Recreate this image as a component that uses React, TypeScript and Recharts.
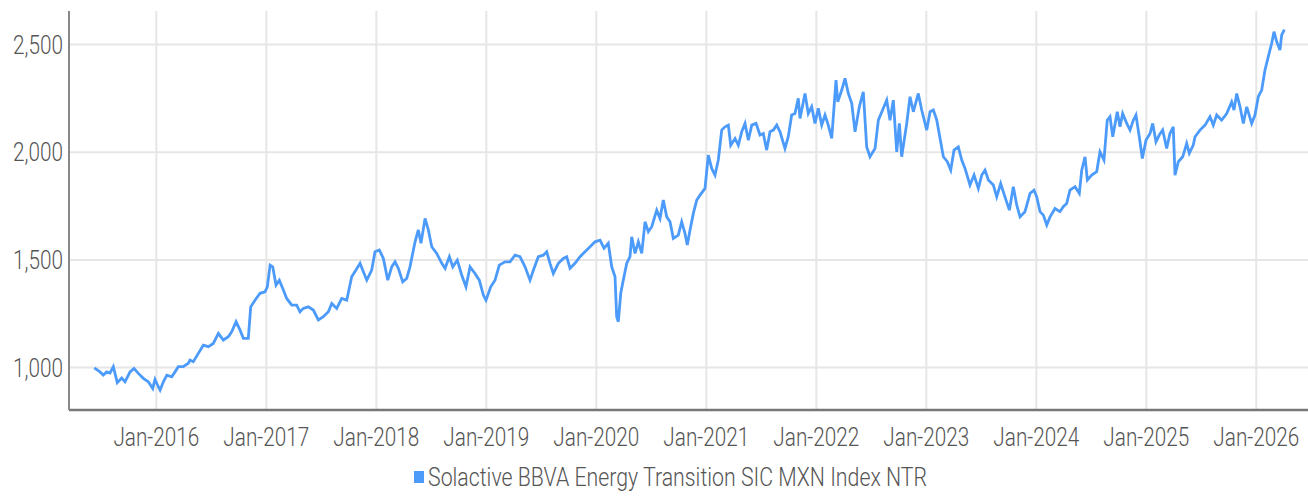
import React from "react";
import { CartesianGrid, Legend, Line, LineChart, XAxis, YAxis } from "recharts";

const SERIES_NAME = "Solactive BBVA Energy Transition SIC MXN Index NTR";

// observation dates as fractional years
const years = [
  2015.436, 2015.488, 2015.518, 2015.549, 2015.579, 2015.609, 2015.645, 2015.685, 2015.715, 2015.761,
  2015.797, 2015.836, 2015.882, 2015.927, 2015.967, 2015.988, 2016.018, 2016.034, 2016.064, 2016.095,
  2016.14, 2016.17, 2016.2, 2016.245, 2016.291, 2016.306, 2016.336, 2016.382, 2016.427, 2016.473,
  2016.518, 2016.564, 2016.609, 2016.655, 2016.685, 2016.725, 2016.761, 2016.791, 2016.836, 2016.858,
  2016.897, 2016.943, 2016.988, 2017.009, 2017.034, 2017.058, 2017.088, 2017.118, 2017.155, 2017.185,
  2017.231, 2017.276, 2017.306, 2017.336, 2017.382, 2017.427, 2017.473, 2017.518, 2017.564, 2017.595,
  2017.64, 2017.685, 2017.731, 2017.776, 2017.815, 2017.852, 2017.882, 2017.913, 2017.958, 2017.988,
  2018.027, 2018.064, 2018.104, 2018.14, 2018.17, 2018.2, 2018.24, 2018.276, 2018.306, 2018.352,
  2018.382, 2018.406, 2018.443, 2018.473, 2018.504, 2018.549, 2018.595, 2018.625, 2018.664, 2018.695,
  2018.736, 2018.776, 2018.815, 2018.852, 2018.897, 2018.936, 2018.973, 2018.997, 2019.04, 2019.079,
  2019.118, 2019.17, 2019.215, 2019.261, 2019.306, 2019.352, 2019.397, 2019.434, 2019.473, 2019.518,
  2019.549, 2019.579, 2019.609, 2019.655, 2019.7, 2019.731, 2019.761, 2019.806, 2019.852, 2019.897,
  2019.943, 2019.988, 2020.034, 2020.07, 2020.109, 2020.14, 2020.17, 2020.185, 2020.2, 2020.222,
  2020.245, 2020.276, 2020.306, 2020.322, 2020.352, 2020.382, 2020.413, 2020.443, 2020.473, 2020.504,
  2020.549, 2020.579, 2020.609, 2020.64, 2020.67, 2020.7, 2020.745, 2020.776, 2020.806, 2020.827,
  2020.852, 2020.882, 2020.913, 2020.943, 2020.988, 2021.018, 2021.049, 2021.079, 2021.109, 2021.14,
  2021.17, 2021.2, 2021.222, 2021.261, 2021.291, 2021.322, 2021.352, 2021.382, 2021.413, 2021.452,
  2021.488, 2021.518, 2021.549, 2021.579, 2021.609, 2021.64, 2021.67, 2021.715, 2021.745, 2021.776,
  2021.806, 2021.836, 2021.852, 2021.897, 2021.927, 2021.958, 2021.988, 2022.018, 2022.049, 2022.079,
  2022.109, 2022.14, 2022.179, 2022.195, 2022.231, 2022.261, 2022.291, 2022.322, 2022.352, 2022.391,
  2022.427, 2022.458, 2022.488, 2022.534, 2022.564, 2022.609, 2022.64, 2022.67, 2022.7, 2022.731,
  2022.755, 2022.776, 2022.822, 2022.852, 2022.882, 2022.927, 2022.958, 2023.004, 2023.034, 2023.064,
  2023.095, 2023.125, 2023.155, 2023.191, 2023.222, 2023.252, 2023.291, 2023.322, 2023.352, 2023.397,
  2023.434, 2023.473, 2023.504, 2023.534, 2023.564, 2023.609, 2023.64, 2023.676, 2023.715, 2023.755,
  2023.791, 2023.822, 2023.852, 2023.897, 2023.943, 2023.979, 2024.004, 2024.034, 2024.064, 2024.095,
  2024.125, 2024.17, 2024.215, 2024.245, 2024.276, 2024.306, 2024.352, 2024.391, 2024.413, 2024.443,
  2024.464, 2024.504, 2024.549, 2024.579, 2024.615, 2024.645, 2024.67, 2024.695, 2024.736, 2024.761,
  2024.785, 2024.822, 2024.852, 2024.882, 2024.906, 2024.936, 2024.964, 2024.997, 2025.034, 2025.058,
  2025.088, 2025.118, 2025.149, 2025.185, 2025.215, 2025.245, 2025.261, 2025.291, 2025.331, 2025.367,
  2025.391, 2025.427, 2025.443, 2025.488, 2025.534, 2025.579, 2025.609, 2025.64, 2025.685, 2025.731,
  2025.776, 2025.797, 2025.822, 2025.852, 2025.882, 2025.913, 2025.958, 2025.988, 2026.018, 2026.049,
  2026.079, 2026.109, 2026.14, 2026.161, 2026.185, 2026.215, 2026.231, 2026.255,
];

const indexValues = [
  999, 980, 965, 980, 975, 1004, 930, 951, 934, 980,
  996, 973, 950, 934, 903, 945, 911, 895, 934, 965,
  957, 980, 1004, 1004, 1020, 1035, 1027, 1066, 1104, 1097,
  1112, 1159, 1128, 1143, 1166, 1213, 1174, 1136, 1136, 1282,
  1313, 1345, 1352, 1375, 1476, 1468, 1383, 1406, 1360, 1321,
  1290, 1290, 1259, 1275, 1282, 1267, 1221, 1236, 1259, 1298,
  1275, 1321, 1313, 1422, 1453, 1484, 1445, 1406, 1453, 1538,
  1546, 1507, 1406, 1468, 1491, 1461, 1398, 1414, 1468, 1584,
  1639, 1577, 1693, 1639, 1561, 1530, 1484, 1461, 1515, 1468,
  1499, 1430, 1375, 1468, 1437, 1406, 1337, 1313, 1375, 1406,
  1476, 1491, 1491, 1522, 1515, 1468, 1406, 1461, 1515, 1522,
  1538, 1484, 1437, 1484, 1507, 1515, 1461, 1484, 1515, 1538,
  1561, 1584, 1592, 1554, 1577, 1468, 1422, 1236, 1213, 1345,
  1406, 1484, 1515, 1607, 1530, 1584, 1530, 1677, 1631, 1654,
  1731, 1693, 1778, 1700, 1677, 1600, 1615, 1677, 1623, 1569,
  1639, 1716, 1778, 1801, 1832, 1987, 1925, 1894, 1964, 2103,
  2118, 2126, 2033, 2064, 2033, 2095, 2134, 2056, 2126, 2134,
  2080, 2087, 2010, 2095, 2103, 2126, 2095, 2018, 2072, 2173,
  2180, 2250, 2157, 2273, 2180, 2211, 2134, 2204, 2126, 2173,
  2126, 2064, 2335, 2234, 2289, 2343, 2273, 2227, 2095, 2211,
  2281, 2025, 1979, 2018, 2149, 2204, 2242, 2149, 2242, 2002,
  2134, 1979, 2134, 2258, 2188, 2273, 2196, 2103, 2188, 2196,
  2149, 2064, 1979, 1956, 1917, 2010, 2025, 1964, 1925, 1848,
  1894, 1832, 1894, 1917, 1871, 1848, 1793, 1855, 1793, 1731,
  1840, 1755, 1700, 1724, 1809, 1824, 1793, 1724, 1708, 1662,
  1700, 1739, 1724, 1747, 1762, 1824, 1840, 1809, 1917, 1979,
  1871, 1894, 1910, 2002, 1964, 2149, 2165, 2072, 2188, 2118,
  2180, 2134, 2103, 2149, 2173, 2072, 1971, 2056, 2087, 2134,
  2049, 2080, 2103, 2018, 2087, 2118, 1894, 1956, 1979, 2041,
  1995, 2033, 2072, 2103, 2126, 2165, 2126, 2173, 2149, 2180,
  2234, 2196, 2273, 2211, 2134, 2211, 2134, 2173, 2258, 2289,
  2382, 2444, 2506, 2560, 2514, 2475, 2545, 2570,
];

const yearTicks = [2016, 2017, 2018, 2019, 2020, 2021, 2022, 2023, 2024, 2025, 2026];
const valueTicks = [1000, 1500, 2000, 2500];

const data = years.map((t, i) => ({ t, value: indexValues[i] }));

const FONT = "Roboto, sans-serif";
const SQUEEZE = 0.83; // the original face is a light condensed one
const TEXT_COLOR = "#555";
const LINE_COLOR = "#4c9bfa";

function YTick({ x, y, payload }: any) {
  return (
    <g transform={`translate(${x},${y})`}>
      <text
        transform={`scale(${SQUEEZE},1)`}
        textAnchor="end"
        dy="0.36em"
        fill={TEXT_COLOR}
        fontSize={25}
        fontWeight={300}
        fontFamily={FONT}
      >
        {Number(payload.value).toLocaleString("en-US")}
      </text>
    </g>
  );
}

function XTick({ x, y, payload }: any) {
  return (
    <g transform={`translate(${x},${y})`}>
      <text
        transform={`scale(${SQUEEZE},1)`}
        textAnchor="middle"
        dy="0.71em"
        fill={TEXT_COLOR}
        fontSize={25}
        fontWeight={300}
        fontFamily={FONT}
      >
        {`Jan-${payload.value}`}
      </text>
    </g>
  );
}

function LegendBox() {
  return (
    <div style={{ height: 36, position: "relative", fontFamily: FONT }}>
      <span
        style={{
          position: "absolute",
          left: 414,
          top: 11,
          width: 10,
          height: 12,
          background: LINE_COLOR,
        }}
      />
      <span
        style={{
          position: "absolute",
          left: 428,
          top: 3,
          fontSize: 25,
          fontWeight: 300,
          lineHeight: "30px",
          color: TEXT_COLOR,
          whiteSpace: "nowrap",
          transform: "scaleX(0.852)",
          transformOrigin: "left center",
        }}
      >
        {SERIES_NAME}
      </span>
    </div>
  );
}

export default function App() {
  return (
    <div style={{ position: "absolute", left: 0, top: 0, width: 1308, height: 496, background: "#fff" }}>
      <LineChart width={1308} height={496} data={data} margin={{ top: 11, right: 0, left: 0, bottom: 0 }}>
        <CartesianGrid
          stroke="#e6e6e6"
          strokeWidth={2}
          horizontalValues={valueTicks}
          verticalValues={yearTicks}
        />
        <XAxis
          dataKey="t"
          type="number"
          domain={[2015.206, 2026.47]}
          ticks={yearTicks}
          height={50}
          tickLine={false}
          tickSize={0}
          tickMargin={18}
          axisLine={{ stroke: "#777", strokeWidth: 2.5 }}
          tick={<XTick />}
          allowDataOverflow
        />
        <YAxis
          type="number"
          domain={[803, 2656]}
          ticks={valueTicks}
          width={69}
          tickLine={false}
          tickSize={0}
          tickMargin={6}
          axisLine={{ stroke: "#888", strokeWidth: 2 }}
          tick={<YTick />}
          allowDataOverflow
        />
        <Legend verticalAlign="bottom" height={36} wrapperStyle={{ left: 0, width: 1308 }} content={() => <LegendBox />} />
        <Line
          type="linear"
          dataKey="value"
          name={SERIES_NAME}
          stroke={LINE_COLOR}
          strokeWidth={2.8}
          dot={false}
          isAnimationActive={false}
        />
      </LineChart>
    </div>
  );
}
